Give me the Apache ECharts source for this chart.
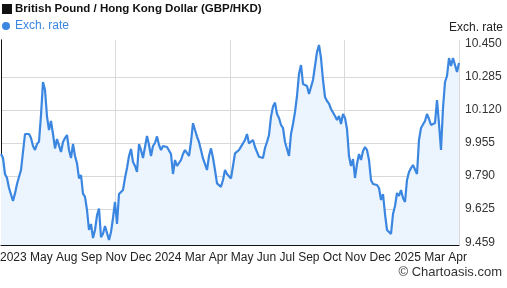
<!DOCTYPE html>
<html>
<head>
<meta charset="utf-8">
<script src="https://cdn.jsdelivr.net/npm/echarts@6/dist/echarts.min.js"></script>
<style>
html, body { margin: 0; padding: 0; background: #fff; }
#main { width: 507px; height: 288px; }
</style>
</head>
<body>
<div id="main"></div>
<script>
// axis labels along the bottom (as printed on the chart)
var xLabels = ['2023', 'May', 'Aug', 'Sep', 'Nov', 'Dec', '2024', 'Mar', 'Apr', 'May',
               'Jun', 'Jul', 'Sep', 'Oct', 'Nov', 'Dec', '2025', 'Mar', 'Apr'];

// right axis tick labels
var yTicks = [9.459, 9.625, 9.790, 9.955, 10.120, 10.285, 10.450];

// GBP/HKD exchange rate, oldest first
var rates = [
  9.900, 9.880, 9.800, 9.780, 9.730, 9.730, 9.665, 9.703, 9.750, 9.760,
  9.820, 9.830, 10.000, 10.010, 10.000, 9.980, 9.940, 9.920, 9.950, 9.962,
  10.095, 10.260, 10.220, 10.087, 10.020, 10.065, 10.000, 9.928, 9.975, 9.975,
  9.910, 9.960, 9.980, 9.995, 9.920, 9.880, 9.950, 9.890, 9.853, 9.778,
  9.795, 9.702, 9.686, 9.620, 9.520, 9.550, 9.480, 9.520, 9.593, 9.627,
  9.484, 9.501, 9.540, 9.530, 9.470, 9.510, 9.580, 9.660, 9.550, 9.700,
  9.710, 9.720, 9.780, 9.830, 9.890, 9.925, 9.860, 9.840, 9.810, 9.950,
  9.920, 9.880, 9.935, 9.990, 9.945, 9.890, 9.940, 9.955, 9.988, 9.945,
  9.920, 9.940, 9.935, 9.935, 9.940, 9.900, 9.800, 9.870, 9.840, 9.850,
  9.870, 9.900, 9.920, 9.915, 9.890, 9.960, 10.054, 10.020, 9.987, 9.960,
  9.953, 9.878, 9.886, 9.820, 9.890, 9.928, 9.880, 9.820, 9.753, 9.750,
  9.736, 9.770, 9.820, 9.800, 9.790, 9.778, 9.786, 9.903, 9.911, 9.920,
  9.937, 9.945, 9.970, 10.000, 9.953, 9.960, 9.970, 9.935, 9.910, 9.886,
  9.890, 9.880, 9.930, 9.960, 9.995, 10.087, 10.137, 10.157, 10.100, 10.080,
  10.045, 10.030, 9.960, 9.950, 9.890, 10.000, 10.050, 10.110, 10.190, 10.300,
  10.345, 10.250, 10.250, 10.240, 10.200, 10.200, 10.270, 10.340, 10.410, 10.445,
  10.380, 10.270, 10.185, 10.165, 10.152, 10.125, 10.130, 10.090, 10.070, 10.090,
  10.050, 10.100, 10.080, 10.025, 9.890, 9.840, 9.875, 9.780, 9.850, 9.900,
  9.870, 9.915, 9.935, 9.920, 9.870, 9.770, 9.750, 9.740, 9.745, 9.730,
  9.670, 9.700, 9.600, 9.520, 9.510, 9.500, 9.600, 9.640, 9.705, 9.690,
  9.720, 9.680, 9.660, 9.770, 9.810, 9.830, 9.845, 9.850, 9.800, 9.970,
  10.030, 10.040, 10.065, 10.100, 10.075, 10.045, 10.040, 10.055, 10.170, 10.050,
  9.920, 10.130, 10.260, 10.290, 10.380, 10.340, 10.380, 10.380, 10.310, 10.355
];

var FONT = 'Arial, "Liberation Sans", sans-serif';
var LINE_COLOR = '#3a86e0';

var myChart = echarts.init(document.getElementById('main'), null, { renderer: 'canvas' });

var option = {
  animation: false,
  textStyle: { fontFamily: FONT },
  title: [
    {
      left: 2,
      top: 3,
      padding: 0,
      text: '{sq|}{t|British Pound / Hong Kong Dollar (GBP/HKD)}',
      textStyle: {
        rich: {
          sq: { backgroundColor: '#111', width: 10, height: 10 },
          t: { fontFamily: FONT, fontWeight: 'bold', fontSize: 11.5, color: '#111', padding: [0, 0, 0, 3] }
        }
      }
    },
    {
      // the month row under the plot is printed as one line of words
      left: 0,
      top: 252,
      padding: 0,
      text: xLabels.join(' '),
      textStyle: { fontFamily: FONT, fontWeight: 'normal', fontSize: 12, color: '#222' }
    },
    {
      right: 5,
      top: 266,
      padding: 0,
      text: '\u00a9 Chartoasis.com',
      textStyle: { fontFamily: FONT, fontWeight: 'normal', fontSize: 13, color: '#333' }
    },
    {
      right: 4,
      top: 22,
      padding: 0,
      text: 'Exch. rate',
      textStyle: { fontFamily: FONT, fontWeight: 'normal', fontSize: 12, color: '#222' }
    }
  ],
  legend: {
    left: 2,
    top: 20,
    padding: 0,
    itemWidth: 8,
    itemHeight: 8,
    data: [{ name: 'Exch. rate', icon: 'circle' }],
    textStyle: { color: LINE_COLOR, fontSize: 12, fontFamily: FONT }
  },
  grid: { left: 1, right: 48, top: 40, bottom: 43 },
  xAxis: {
    type: 'value',
    min: 0,
    max: rates.length - 1,
    interval: (rates.length - 1) / 4,
    axisLine: { show: true, lineStyle: { color: '#111', width: 1 } },
    axisTick: { show: false },
    axisLabel: { show: false },
    splitLine: { show: true, lineStyle: { color: '#d9d9d9', width: 1 } }
  },
  yAxis: [
    {
      type: 'value',
      position: 'right',
      min: 9.445,
      max: 10.470,
      axisLine: { show: true, lineStyle: { color: '#111', width: 1 } },
      axisTick: { show: false, customValues: yTicks.slice(1, yTicks.length - 1) },
      axisLabel: {
        customValues: yTicks,
        color: '#333',
        fontSize: 12,
        fontFamily: FONT,
        margin: 6,
        formatter: function (v) { return v.toFixed(3); }
      },
      splitLine: { show: true, lineStyle: { color: '#d9d9d9', width: 1 } }
    },
    {
      type: 'value',
      position: 'left',
      min: 9.445,
      max: 10.470,
      axisLine: { show: true, lineStyle: { color: '#111', width: 1 } },
      axisTick: { show: false },
      axisLabel: { show: false },
      splitLine: { show: false }
    }
  ],
  series: [
    {
      name: 'Exch. rate',
      type: 'line',
      yAxisIndex: 0,
      color: LINE_COLOR,
      showSymbol: false,
      symbol: 'none',
      lineStyle: { color: LINE_COLOR, width: 2.2 },
      areaStyle: { color: '#ecf5fe', opacity: 1 },
      data: rates.map(function (v, i) { return [i, v]; })
    }
  ]
};

myChart.setOption(option);
</script>
</body>
</html>
